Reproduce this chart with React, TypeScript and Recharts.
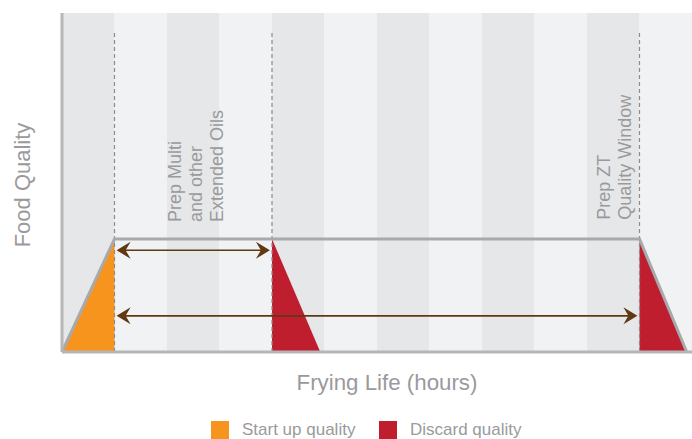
import {
  ComposedChart,
  Area,
  Line,
  XAxis,
  YAxis,
  ReferenceArea,
  ReferenceLine,
  ReferenceDot,
} from 'recharts';

// frying hours on x (0-12), food quality on y (0-3)
const bandStarts = [0, 1, 2, 3, 4, 5, 6, 7, 8, 9, 10, 11];
const startUp = [
  { x: 0, y: 0 },
  { x: 1, y: 1 },
];
const discardMulti = [
  { x: 4, y: 1 },
  { x: 4.92, y: 0 },
];
const discardZT = [
  { x: 11, y: 1 },
  { x: 11.9, y: 0 },
];
const outline = [
  { x: 0, y: 0 },
  { x: 1, y: 1 },
  { x: 11, y: 1 },
  { x: 11.9, y: 0 },
];
const markers = [1, 4, 11];
const arrows = [
  { from: 1.04, to: 3.96, y: 0.9 },
  { from: 1.04, to: 10.96, y: 0.32 },
];
const multiLabel = ['Prep Multi', 'and other', 'Extended Oils'];
const ztLabel = ['Prep ZT', 'Quality Window'];
const legendItems = [
  { name: 'Start up quality', color: '#f7941d', left: 211 },
  { name: 'Discard quality', color: '#be1e2d', left: 379 },
];

const FONT = '"Liberation Sans", Arial, sans-serif';
const TEXT = '#9a9a9c';
const ORANGE = '#f7941d';
const RED = '#be1e2d';
const BROWN = '#603913';

function ArrowShape(p: any) {
  const { x1, y1, x2 } = p;
  const y = y1;
  const left = Math.min(x1, x2);
  const right = Math.max(x1, x2);
  return (
    <g>
      <line x1={left + 8} y1={y} x2={right - 8} y2={y} stroke={BROWN} strokeWidth={1.6} />
      <path
        d={`M${left} ${y} L${left + 14} ${y - 8.5} L${left + 9} ${y} L${left + 14} ${y + 8.5} Z`}
        fill={BROWN}
      />
      <path
        d={`M${right} ${y} L${right - 14} ${y - 8.5} L${right - 9} ${y} L${right - 14} ${y + 8.5} Z`}
        fill={BROWN}
      />
    </g>
  );
}

function rotatedLines(lines: string[]) {
  return (p: any) => {
    const { cx, cy } = p;
    return (
      <g>
        {lines.map((t, i) => {
          const x = cx + i * 21;
          return (
            <text
              key={t}
              x={x}
              y={cy}
              transform={`rotate(-90 ${x} ${cy})`}
              dominantBaseline="central"
              fontFamily={FONT}
              fontSize={18}
              fill={TEXT}
            >
              {t}
            </text>
          );
        })}
      </g>
    );
  };
}

export default function App() {
  return (
    <div style={{ position: 'absolute', left: 0, top: 0, width: 692, height: 439, background: '#fff' }}>
      <ComposedChart width={692} height={439} margin={{ top: 13, right: 0, bottom: 87, left: 62 }}>
        <XAxis type="number" dataKey="x" domain={[0, 12]} hide />
        <YAxis type="number" domain={[0, 3]} hide />
        {bandStarts.map((b) => (
          <ReferenceArea
            key={b}
            x1={b}
            x2={b + 1}
            y1={0}
            y2={3}
            fill={b % 2 === 0 ? '#e6e7e9' : '#f1f2f4'}
            fillOpacity={1}
            stroke="none"
          />
        ))}
        <Area data={startUp} dataKey="y" type="linear" fill={ORANGE} fillOpacity={1} stroke="none" isAnimationActive={false} />
        <Area data={discardMulti} dataKey="y" type="linear" fill={RED} fillOpacity={1} stroke="none" isAnimationActive={false} />
        <Area data={discardZT} dataKey="y" type="linear" fill={RED} fillOpacity={1} stroke="none" isAnimationActive={false} />
        {markers.map((m) => (
          <ReferenceLine
            key={m}
            segment={[
              { x: m, y: 0 },
              { x: m, y: 2.85 },
            ]}
            stroke="#8c8c8e"
            strokeWidth={1.2}
            strokeDasharray="4 3"
          />
        ))}
        <Line data={outline} dataKey="y" type="linear" stroke="#a7a9ac" strokeWidth={3} dot={false} isAnimationActive={false} />
        {arrows.map((a, i) => (
          <ReferenceLine
            key={i}
            segment={[
              { x: a.from, y: a.y },
              { x: a.to, y: a.y },
            ]}
            shape={ArrowShape}
          />
        ))}
        <ReferenceLine x={0} stroke="#b5b6b8" strokeWidth={3} />
        <ReferenceLine y={0} stroke="#b5b6b8" strokeWidth={3} />
        <ReferenceDot x={2.15} y={1.15} shape={rotatedLines(multiLabel)} />
        <ReferenceDot x={10.33} y={1.17} shape={rotatedLines(ztLabel)} />
        <text
          x={22}
          y={185}
          transform="rotate(-90 22 185)"
          textAnchor="middle"
          dominantBaseline="central"
          fontFamily={FONT}
          fontSize={22}
          fill={TEXT}
        >
          Food Quality
        </text>
        <text x={387} y={390} textAnchor="middle" fontFamily={FONT} fontSize={22.3} fill={TEXT}>
          Frying Life (hours)
        </text>
      </ComposedChart>
      {legendItems.map((it) => (
        <div
          key={it.name}
          style={{
            position: 'absolute',
            left: it.left,
            top: 421,
            height: 18,
            display: 'flex',
            alignItems: 'center',
            fontFamily: FONT,
            fontSize: 17,
            color: TEXT,
            whiteSpace: 'nowrap',
          }}
        >
          <span style={{ width: 18, height: 18, background: it.color, display: 'inline-block', marginRight: 13 }} />
          <span>{it.name}</span>
        </div>
      ))}
    </div>
  );
}
